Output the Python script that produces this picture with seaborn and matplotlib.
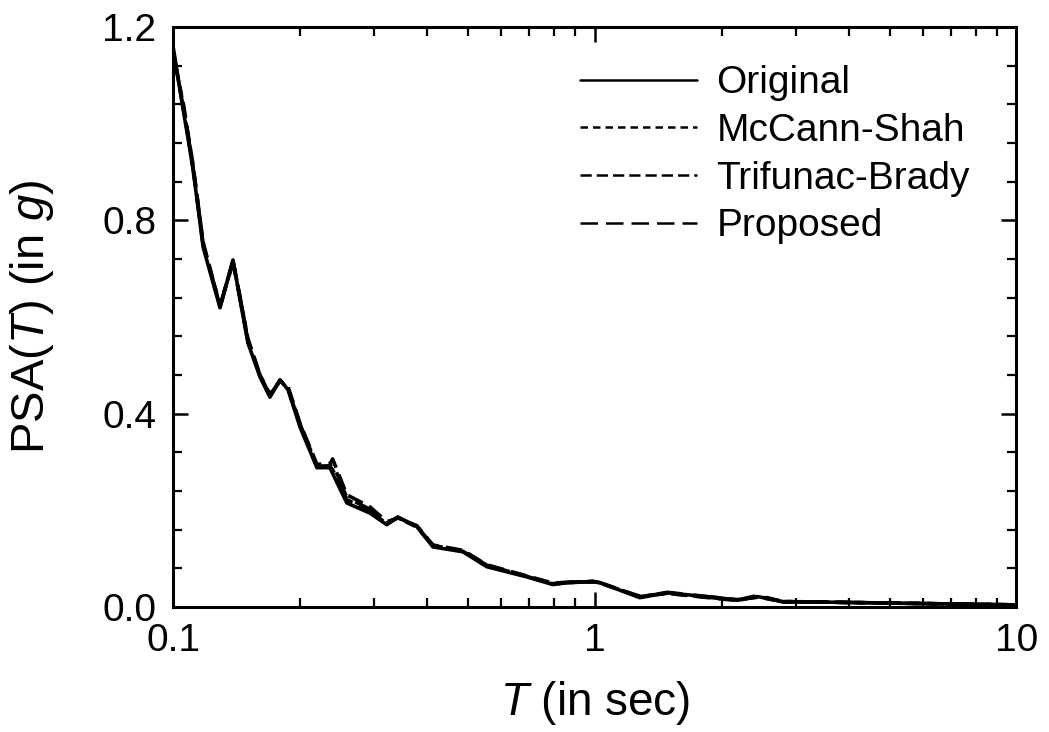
import matplotlib
matplotlib.use("Agg")
import matplotlib.pyplot as plt
import seaborn as sns
from matplotlib.ticker import MultipleLocator, NullFormatter

sns.set_theme(style="ticks")
plt.rcParams["font.family"] = ["Liberation Sans", "DejaVu Sans"]
plt.rcParams["mathtext.fontset"] = "custom"
plt.rcParams["mathtext.rm"] = "Liberation Sans"
plt.rcParams["mathtext.it"] = "Liberation Sans:italic"
plt.rcParams["text.color"] = "black"
plt.rcParams["axes.labelcolor"] = "black"

# period (s) and spectral acceleration (g)
period = [0.100, 0.1056, 0.1085, 0.1115, 0.1140, 0.1178, 0.1292, 0.1387, 0.1442, 0.1505,
          0.1607, 0.1697, 0.1793, 0.1874, 0.2000, 0.2193, 0.2354, 0.2390, 0.2582, 0.2929,
          0.3212, 0.3412, 0.3785, 0.4133, 0.4865, 0.5546, 0.6899, 0.7956, 0.8588, 0.9904,
          1.029, 1.279, 1.484, 1.952, 2.179, 2.443, 2.799, 3.364, 4.803, 10.0]
original = [1.16, 1.03, 0.97, 0.905, 0.842, 0.745, 0.619, 0.718, 0.635, 0.546,
            0.476, 0.434, 0.470, 0.449, 0.372, 0.288, 0.288, 0.276, 0.215, 0.194,
            0.170, 0.186, 0.166, 0.124, 0.114, 0.083, 0.062, 0.046, 0.050, 0.052,
            0.050, 0.019, 0.029, 0.019, 0.014, 0.021, 0.010, 0.010, 0.008, 0.004]
mccann_shah = [1.15, 1.04, 0.975, 0.91, 0.85, 0.75, 0.625, 0.712, 0.64, 0.552,
               0.48, 0.44, 0.468, 0.452, 0.378, 0.292, 0.29, 0.284, 0.222, 0.198,
               0.172, 0.184, 0.165, 0.127, 0.116, 0.086, 0.063, 0.048, 0.051, 0.053,
               0.050, 0.021, 0.028, 0.018, 0.015, 0.020, 0.011, 0.010, 0.008, 0.004]
trifunac_brady = [1.14, 1.045, 0.98, 0.915, 0.85, 0.755, 0.622, 0.715, 0.64, 0.555,
                  0.48, 0.438, 0.468, 0.455, 0.38, 0.295, 0.296, 0.306, 0.232, 0.207,
                  0.176, 0.184, 0.168, 0.128, 0.117, 0.087, 0.064, 0.049, 0.051, 0.052,
                  0.049, 0.022, 0.028, 0.017, 0.013, 0.022, 0.011, 0.010, 0.008, 0.004]
proposed = [1.15, 1.035, 0.975, 0.91, 0.845, 0.75, 0.621, 0.716, 0.637, 0.55,
            0.478, 0.436, 0.469, 0.451, 0.376, 0.291, 0.292, 0.298, 0.226, 0.202,
            0.173, 0.185, 0.167, 0.126, 0.115, 0.085, 0.063, 0.047, 0.050, 0.052,
            0.050, 0.020, 0.030, 0.019, 0.014, 0.024, 0.010, 0.010, 0.008, 0.004]

series = [
    ("Original", original, "-"),
    ("McCann-Shah", mccann_shah, (0, (3.0, 2.0))),
    ("Trifunac-Brady", trifunac_brady, (0, (4.5, 2.0))),
    ("Proposed", proposed, (0, (7, 3.2))),
]

fig, ax = plt.subplots(figsize=(10.49, 7.32), dpi=100)
fig.subplots_adjust(left=0.165, right=0.969, bottom=0.171, top=0.963)

for name, vals, ls in series:
    sns.lineplot(x=period, y=vals, ax=ax, color="black", linewidth=2.6,
                 linestyle=ls, label=name)

ax.set_xscale("log")
ax.set_xlim(0.1, 10)
ax.set_ylim(0, 1.2)
ax.set_xticks([0.1, 1, 10], labels=["0.1", "1", "10"])
ax.xaxis.set_minor_formatter(NullFormatter())
ax.set_yticks([0.0, 0.4, 0.8, 1.2], labels=["0.0", "0.4", "0.8", "1.2"])
ax.yaxis.set_minor_locator(MultipleLocator(0.08))

ax.tick_params(which="both", direction="in", top=True, right=True,
               labelsize=28, color="black", labelcolor="black")
ax.tick_params(which="major", length=11, width=1.8)
ax.tick_params(which="minor", length=6.5, width=1.6)
ax.tick_params(axis="x", pad=12)
ax.tick_params(axis="y", pad=12)
for sp in ax.spines.values():
    sp.set_linewidth(2.2)
    sp.set_color("black")

ax.set_xlabel(r"$T$ (in sec)", fontsize=33, labelpad=14)
ax.set_ylabel(r"PSA($T$) (in $g$)", fontsize=34, labelpad=33)

ax.legend(loc="upper right", bbox_to_anchor=(0.945, 0.934), frameon=False,
          fontsize=28, handlelength=3.0, handletextpad=0.5, labelspacing=0.3,
          borderaxespad=0, borderpad=0)
for line in ax.get_legend().get_lines():
    line.set_linewidth(1.8)

plt.savefig("out.png", dpi=100)
